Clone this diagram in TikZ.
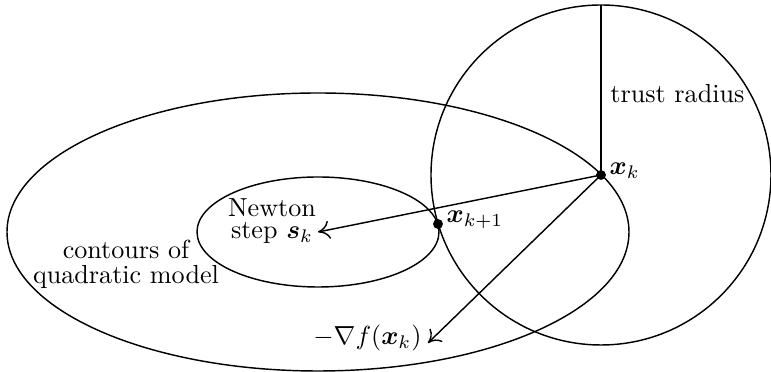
\documentclass[tikz,border=0pt]{standalone}
\usepackage{amsmath,amssymb}
\usepackage{bm}
\usepackage{tikz}
\usetikzlibrary{arrows.meta, positioning}

\begin{document}
\begin{tikzpicture}[
  x=0.383pt, y=0.383pt,
  curve/.style={line width=0.55pt},
  dot/.style={circle, fill=black, inner sep=0pt, minimum size=3.8pt},
  ar/.style={-{Computer Modern Rightarrow[length=4.5pt,width=7pt]}, line width=0.55pt}
]
  \useasboundingbox (0,0) rectangle (771,372);
  \coordinate (c) at (318,140);
  \coordinate (top) at (601,367);
  \coordinate (g) at (428,29);
  \node[dot] (xk) at (601,197) {};
  \node[dot] (xk1) at (438,148) {};
  % contours and trust region
  \draw[curve] (c) ellipse[x radius=311, y radius=139];
  \draw[curve] (c) ellipse[x radius=121, y radius=55];
  \draw[curve] (xk.center) circle[radius=170];
  \draw[curve] (xk.center) -- node[right, pos=0.48] (tr) {trust radius} (top);
  % steps
  \draw[ar] (xk.center) -- (c);
  \draw[ar] (xk.center) -- (g);
  \node[right=0pt of xk, inner sep=1pt, yshift=1.5pt] (lk) {$\bm{x}_k$};
  \node[right=0pt of xk1, inner sep=1pt, yshift=1.5pt] (lk1) {$\bm{x}_{k+1}$};
  \node[left=0pt of g, inner sep=2.3pt, yshift=2pt] (lg) {$-\nabla f(\bm{x}_k)$};
  \node[align=center] (newt) at (272,151) {Newton\\[-3.3pt]step $\bm{s}_k$};
  \node[align=center] (cont) at (126,108) {contours of\\[-2.4pt]quadratic model};
\end{tikzpicture}
\end{document}
